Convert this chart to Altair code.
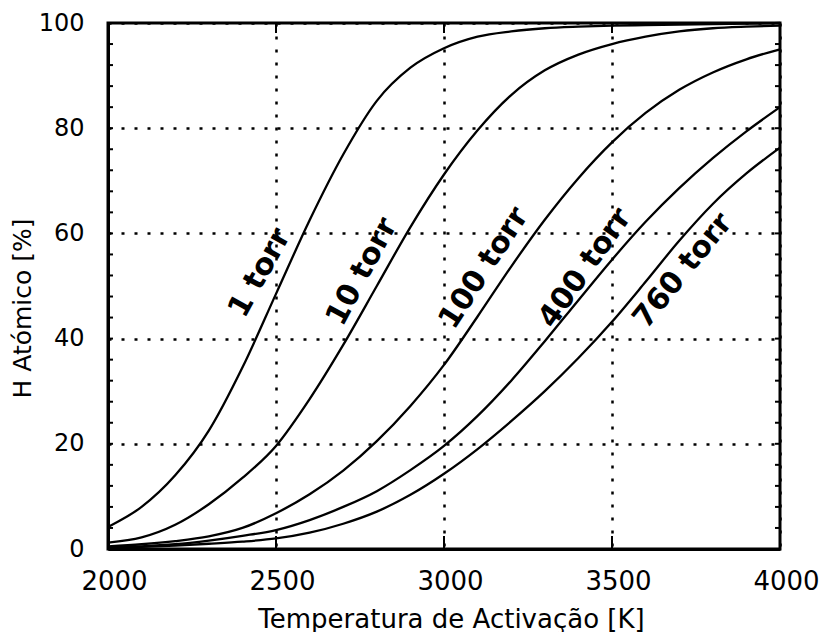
import altair as alt
import pandas as pd

# ---- data ----
temps = [2000, 2100, 2200, 2300, 2400, 2500, 2600, 2700, 2800, 2900, 3000,
         3100, 3200, 3300, 3400, 3500, 3600, 3700, 3800, 3900, 4000]

h_1torr = [4.2, 8.0, 14.0, 22.5, 34.5, 48.5, 62.5, 75.0, 85.2, 91.5, 95.2,
           97.4, 98.4, 99.0, 99.3, 99.5, 99.6, 99.7, 99.8, 99.9, 100.0]
h_10torr = [1.2, 2.2, 4.6, 8.5, 13.5, 19.6, 28.5, 38.8, 50.0, 61.2, 71.2,
            79.6, 86.3, 91.0, 94.0, 96.0, 97.4, 98.4, 99.0, 99.3, 99.5]
h_100torr = [0.5, 0.9, 1.5, 2.4, 4.0, 6.8, 10.4, 14.9, 20.5, 27.2, 35.0,
             44.2, 53.7, 62.6, 70.5, 77.3, 82.9, 87.3, 90.6, 93.1, 95.0]
h_400torr = [0.3, 0.5, 0.9, 1.6, 2.5, 3.6, 5.5, 8.0, 11.0, 15.0, 19.6,
             25.3, 32.0, 39.5, 47.3, 55.0, 62.2, 68.6, 74.3, 79.4, 84.0]
h_760torr = [0.2, 0.4, 0.65, 1.0, 1.4, 2.0, 3.1, 4.8, 7.1, 10.3, 14.3,
             19.0, 24.3, 30.0, 36.3, 43.2, 50.8, 58.6, 65.6, 71.4, 76.3]

series_names = ["1 torr", "10 torr", "100 torr", "400 torr", "760 torr"]
series_vals = [h_1torr, h_10torr, h_100torr, h_400torr, h_760torr]

label_text = ["1 torr", "10 torr", "100 torr", "400 torr", "760 torr"]
label_T = [2452, 2756, 3119, 3420, 3711]
label_H = [52.5, 52.7, 53.4, 53.4, 52.9]
label_angle = [299, 298, 303, 305, 309]

x_ticks = [2000, 2500, 3000, 3500, 4000]
y_ticks = [0, 20, 40, 60, 80, 100]
y_minor = [4, 8, 12, 16, 20, 24, 28, 32, 36, 40, 44, 48, 52, 56, 60,
           64, 68, 72, 76, 80, 84, 88, 92, 96]
x_inner = [2500, 3000, 3500]

# ---- tables ----
rows = []
for name, vals in zip(series_names, series_vals):
    for t, v in zip(temps, vals):
        rows.append({"T": t, "H": v, "serie": name})
df = pd.DataFrame(rows)

df_lab = pd.DataFrame({"T": label_T, "H": label_H, "txt": label_text,
                       "ang": label_angle})
df_ym = pd.DataFrame({"v": y_minor})
df_xm = pd.DataFrame({"v": x_inner})

FONT = "DejaVu Sans"
xs = alt.Scale(domain=[2000, 4000], nice=False, zero=False)
ys = alt.Scale(domain=[0, 100], nice=False, zero=False)

x_axis = alt.Axis(values=x_ticks, title="Temperatura de Activação [K]",
                  format="d")
y_axis = alt.Axis(values=y_ticks, title="H Atómico [%]", format="d")

lines = alt.Chart(df).mark_line(color="black", strokeWidth=2.3,
                                interpolate="monotone").encode(
    x=alt.X("T:Q", scale=xs, axis=x_axis),
    y=alt.Y("H:Q", scale=ys, axis=y_axis),
    detail="serie:N",
)

labels = alt.Chart(df_lab).mark_text(font=FONT, fontWeight="bold",
                                     fontSize=30, color="black",
                                     align="center", baseline="middle").encode(
    x=alt.X("T:Q", scale=xs, axis=x_axis),
    y=alt.Y("H:Q", scale=ys, axis=y_axis),
    text="txt:N",
    angle=alt.Angle("ang:Q", scale=None),
)

tick_left = alt.Chart(df_ym).mark_rule(color="black", strokeWidth=2).encode(
    y=alt.Y("v:Q", scale=ys, axis=y_axis), x=alt.value(0), x2=alt.value(5))
tick_right = alt.Chart(df_ym).mark_rule(color="black", strokeWidth=2).encode(
    y=alt.Y("v:Q", scale=ys, axis=y_axis), x=alt.value(667), x2=alt.value(672))
tick_bottom = alt.Chart(df_xm).mark_rule(color="black", strokeWidth=2).encode(
    x=alt.X("v:Q", scale=xs, axis=x_axis), y=alt.value(526), y2=alt.value(513))
tick_top = alt.Chart(df_xm).mark_rule(color="black", strokeWidth=2).encode(
    x=alt.X("v:Q", scale=xs, axis=x_axis), y=alt.value(0), y2=alt.value(10))

chart = alt.layer(lines, labels, tick_left, tick_right, tick_bottom,
                  tick_top).properties(
    width=672, height=526,
    background="white",
    autosize=alt.AutoSizeParams(type="none"),
    padding={"left": 100, "top": 15, "right": 40, "bottom": 90},
).configure_view(
    stroke="black", strokeWidth=3
).configure_axis(
    grid=True, gridDash=[3, 10], gridColor="black", gridWidth=2.5,
    gridOpacity=1, domain=True, domainColor="black", domainWidth=3,
    ticks=False, labelColor="black", titleColor="black",
    labelFont=FONT, titleFont=FONT, titleFontWeight="normal",
    labelFlush=False, labelOverlap=False,
).configure_axisX(
    labelFontSize=26, labelPadding=19, labelOffset=6,
    titleFontSize=26, titleX=343, titleY=78, titleBaseline="alphabetic",
).configure_axisY(
    labelFontSize=24, labelPadding=24,
    titleFontSize=25, titleX=-86, titleY=285, titleAngle=270,
    titleAlign="center", titleBaseline="middle",
)

chart.save("out.html", embed_options={"renderer": "svg", "actions": False})
